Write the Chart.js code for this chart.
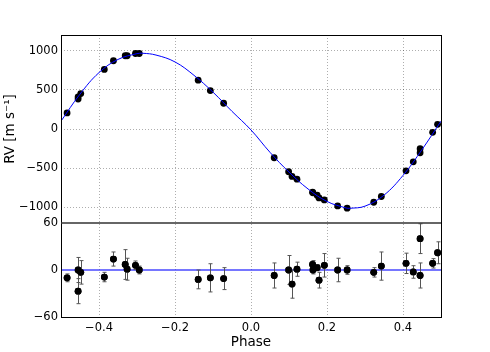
<!DOCTYPE html>
<html>
<head>
<meta charset="utf-8">
<script src="https://cdn.jsdelivr.net/npm/chart.js@4.4.1/dist/chart.umd.min.js"></script>
<style>
  html, body { margin: 0; padding: 0; background: #fff; }
  #wrap { width: 490px; height: 352px; }
</style>
</head>
<body>
<div id="wrap"><canvas id="rv-chart" width="490" height="352"></canvas></div>
<script>
// observations, phase folded
let phase = [-0.484, -0.455, -0.455, -0.448, -0.386, -0.362, -0.331, -0.326, -0.304, -0.294,
  -0.139, -0.107, -0.072, 0.061, 0.099, 0.108, 0.121, 0.162, 0.163, 0.174,
  0.179, 0.193, 0.228, 0.253, 0.323, 0.343, 0.408, 0.427, 0.445, 0.445,
  0.478, 0.491]
let rv = [205, 410, 382, 452, 760, 871, 935, 935, 964, 964,
  623, 490, 329, -367, -546, -606, -640, -807, -815, -845,
  -880, -905, -982, -1011, -935, -862, -534, -419, -252, -303,
  -42, 60]
let resid = [-10, 0, -27, -3, -9, 14, 7, 1, 6, 0,
  -12, -10, -11, -7, 0, -18, 1, 7, 0, 3,
  -13, 6, 0, 0, -3, 5, 8.5, -2.5, 40, -7,
  8.5, 22]
let residErr = [5, 16, 16, 15, 6, 9, 19, 14, 5.5, 5,
  12, 18, 14, 16, 18.5, 18, 9, 5, 5, 4,
  10, 15, 15, 5.5, 6, 18, 13, 8, 19, 16,
  6, 14]

// model curve
let modelPhase = [-0.5, -0.45, -0.4, -0.35, -0.3, -0.285, -0.25, -0.2, -0.15, -0.1, -0.05, 0,
  0.05, 0.1, 0.15, 0.2, 0.25, 0.26, 0.3, 0.35, 0.4, 0.45, 0.5]
let modelRv = [100, 445, 720, 888, 962, 967, 944, 856, 685, 470, 225, -12,
  -298, -550, -765, -925, -1008, -1012, -985, -844, -593, -263, 100]

let xTicks = [-0.4, -0.2, 0.0, 0.2, 0.4]
let rvTicks = [-1000, -500, 0, 500, 1000]
let resTicks = [-60, 0, 60]

const FONT = 'DejaVu Sans'
const fmt = v => (v < 0 ? '\u2212' : '') + Math.abs(v)
const fmtX = v => (v < 0 ? '\u2212' : '') + Math.abs(v).toFixed(1)
const gridStyle = { color: 'rgba(0,0,0,0.4)', lineWidth: 0.8, drawTicks: false }

const pts = (xs, ys) => xs.map((x, i) => ({ x: x, y: ys[i] }))

const errorBars = {
  id: 'errorBars',
  afterDatasetsDraw(chart) {
    const ctx = chart.ctx, x = chart.scales.x, y2 = chart.scales.y2
    ctx.save()
    ctx.strokeStyle = '#555'
    ctx.lineWidth = 1
    phase.forEach((p, i) => {
      const px = Math.round(x.getPixelForValue(p)) + 0.5
      const lo = y2.getPixelForValue(resid[i] - residErr[i])
      const hi = y2.getPixelForValue(resid[i] + residErr[i])
      ctx.beginPath()
      ctx.moveTo(px, lo); ctx.lineTo(px, hi)
      ctx.moveTo(px - 2, lo); ctx.lineTo(px + 2, lo)
      ctx.moveTo(px - 2, hi); ctx.lineTo(px + 2, hi)
      ctx.stroke()
    })
    ctx.restore()
    // redraw residual points over the bars
    chart.getDatasetMeta(3).controller.draw()
  }
}

const frame = {
  id: 'frame',
  afterDatasetsDraw(chart) {
    const ctx = chart.ctx, a = chart.chartArea
    const sep = chart.scales.y.bottom
    ctx.save()
    ctx.strokeStyle = '#000'
    ctx.lineWidth = 1
    ctx.strokeRect(Math.round(a.left) + 0.5, Math.round(a.top) + 0.5,
      Math.round(a.right - a.left), Math.round(a.bottom - a.top))
    ctx.strokeStyle = '#333'
    ctx.lineWidth = 1.6
    ctx.beginPath()
    ctx.moveTo(a.left, sep); ctx.lineTo(a.right, sep)
    ctx.stroke()
    ctx.restore()
  }
}

new Chart(document.getElementById('rv-chart'), {
  type: 'scatter',
  data: {
    datasets: [
      {
        data: pts(modelPhase, modelRv),
        yAxisID: 'y',
        showLine: true,
        tension: 0.4,
        borderColor: '#0000ff',
        borderWidth: 1,
        pointRadius: 0
      },
      {
        data: pts(phase, rv),
        yAxisID: 'y',
        pointRadius: 3.4,
        backgroundColor: '#000',
        borderColor: '#000',
        borderWidth: 0
      },
      {
        data: [{ x: -0.5, y: 0 }, { x: 0.5, y: 0 }],
        yAxisID: 'y2',
        showLine: true,
        borderColor: 'rgba(40,40,255,0.85)',
        borderWidth: 1.6,
        pointRadius: 0
      },
      {
        data: pts(phase, resid),
        yAxisID: 'y2',
        pointRadius: 3.4,
        backgroundColor: '#000',
        borderColor: '#000',
        borderWidth: 0
      }
    ]
  },
  options: {
    responsive: false,
    animation: false,
    events: [],
    layout: { padding: { left: 0, right: 49, top: 35, bottom: 0 } },
    plugins: { legend: { display: false }, tooltip: { enabled: false } },
    scales: {
      x: {
        type: 'linear',
        min: -0.5, max: 0.5,
        afterBuildTicks: s => { s.ticks = xTicks.map(v => ({ value: v })) },
        afterFit: s => { s.height = 35 },
        ticks: { callback: fmtX, color: '#000', padding: 4, font: { family: FONT, size: 11.5 } },
        grid: gridStyle,
        border: { display: false, dash: [1, 2] },
        title: { display: true, text: 'Phase', color: '#000', padding: { top: 0, bottom: 1 },
          font: { family: FONT, size: 13.5 } }
      },
      y: {
        type: 'linear',
        stack: 'rv', stackWeight: 2, weight: 1,
        position: 'left',
        min: -1200, max: 1200,
        afterBuildTicks: s => { s.ticks = rvTicks.map(v => ({ value: v })) },
        afterFit: s => { s.width = 61 },
        ticks: { callback: fmt, color: '#000', padding: 3, font: { family: FONT, size: 11.5 } },
        grid: gridStyle,
        border: { display: false, dash: [1, 2] },
        title: { display: true, text: 'RV [m s\u207B\u00B9]', color: '#000', padding: { top: 2, bottom: 0 },
          font: { family: FONT, size: 13.5 } }
      },
      y2: {
        type: 'linear',
        stack: 'rv', stackWeight: 1, weight: 0,
        position: 'left',
        min: -60, max: 60,
        afterBuildTicks: s => { s.ticks = resTicks.map(v => ({ value: v })) },
        afterFit: s => { s.width = 61 },
        ticks: { callback: fmt, color: '#000', padding: 3, font: { family: FONT, size: 11.5 } },
        grid: { display: false, drawTicks: false },
        border: { display: false }
      }
    }
  },
  plugins: [errorBars, frame]
})
</script>
</body>
</html>
